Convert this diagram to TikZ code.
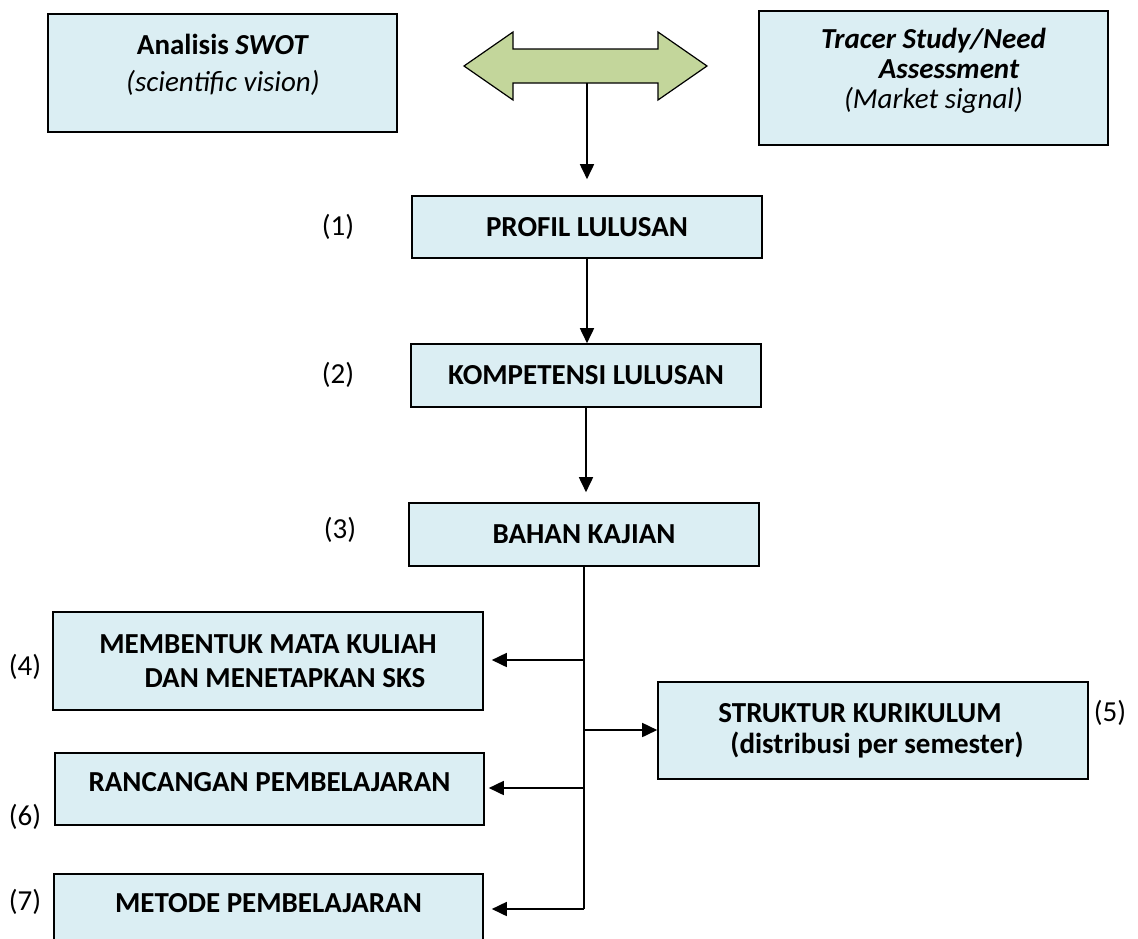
\documentclass[tikz,border=0pt]{standalone}
\usepackage{fontspec}
\setmainfont{Carlito}
\usetikzlibrary{arrows.meta,calc}
\definecolor{boxblue}{RGB}{219,238,243}
\definecolor{arrgreen}{RGB}{195,214,155}
\tikzset{
  box/.style={draw=black, line width=1.6pt, fill=boxblue, inner sep=0pt, align=center,
              font=\fontsize{29}{34}\selectfont\bfseries},
  txt/.style={inner sep=0pt, align=center, font=\fontsize{29}{34}\selectfont},
  num/.style={inner sep=0pt, font=\fontsize{29}{34}\selectfont},
  conn/.style={draw=black, line width=1.7pt, -{Triangle[length=15pt,width=14pt]}},
  trunk/.style={draw=black, line width=1.7pt}
}
\begin{document}
\begin{tikzpicture}[x=1pt,y=-1pt]
\useasboundingbox (0,0) rectangle (1138,938);
\clip (0,0) rectangle (1138,938);
\fill[white] (0,0) rectangle (1138,938);

% top row
\node[box, minimum width=349pt, minimum height=118pt] (swot) at (222.5,73) {};
\node[txt, font=\fontsize{29}{37}\selectfont] (swotT) at (223,65) {\textbf{Analisis \textit{SWOT}}\\\textit{(scientific vision)}};

\node[box, minimum width=349pt, minimum height=134pt] (tracer) at (933.5,78) {};
\node[txt, font=\fontsize{29}{30}\selectfont] (tracerT) at (933.5,71) {\bfseries\itshape Tracer Study/Need\\\hspace*{31pt}\bfseries\itshape Assessment\\\itshape (Market signal)};

\filldraw[fill=arrgreen, draw=black, line width=1.2pt, line join=miter]
  (464,66) -- (513,32) -- (513,49) -- (658,49) -- (658,32) -- (707,66)
  -- (658,100) -- (658,83) -- (513,83) -- (513,100) -- cycle;
\coordinate (dblbot) at (587,83);

% main column
\node[box, minimum width=350pt, minimum height=62pt] (profil) at (587,227) {PROFIL LULUSAN};
\node[box, minimum width=350pt, minimum height=63pt] (komp) at (586,375.5) {KOMPETENSI LULUSAN};
\node[box, minimum width=350pt, minimum height=63pt] (bahan) at (584,534.5) {BAHAN KAJIAN};

\node[num] (n1) at (338,227) {(1)};
\node[num] (n2) at (338,375) {(2)};
\node[num] (n3) at (340,530) {(3)};

% lower boxes
\node[box, minimum width=430pt, minimum height=98pt] (membentuk) at (268,661)
  {MEMBENTUK MATA KULIAH\\\hspace*{34pt}DAN MENETAPKAN SKS};
\node[box, minimum width=430pt, minimum height=97pt, font=\fontsize{29}{31}\selectfont\bfseries] (struktur) at (873,730.5)
  {STRUKTUR KURIKULUM\hspace*{26pt}\\\hspace*{8pt}(distribusi per semester)};
\node[box, minimum width=429pt, minimum height=72pt] (rancangan) at (269.5,789) {};
\node[txt, font=\fontsize{29}{34}\selectfont\bfseries] (rancanganT) at (269.5,782) {RANCANGAN PEMBELAJARAN};
\node[box, minimum width=429pt, minimum height=76pt] (metode) at (268.5,912) {};
\node[txt, font=\fontsize{29}{34}\selectfont\bfseries] (metodeT) at (268.5,903) {METODE PEMBELAJARAN};

\node[num] (n4) at (25,667) {(4)};
\node[num] (n5) at (1110,713) {(5)};
\node[num] (n6) at (25,817) {(6)};
\node[num] (n7) at (25,902) {(7)};

% connectors
\draw[conn, shorten >=16pt] (dblbot) -- (dblbot |- profil.north);
\draw[conn] (profil.south) -- (profil.south |- komp.north);
\draw[conn, shorten >=10pt] (komp.south) -- (komp.south |- bahan.north);

\coordinate (b1) at (584,660);
\coordinate (b2) at (584,730);
\coordinate (b3) at (584,788);
\coordinate (b4) at (584,909);
\draw[trunk] (bahan.south) -- (b4);
\draw[conn, shorten >=8pt] (b1) -- (b1 -| membentuk.east);
\draw[conn] (b2) -- (b2 -| struktur.west);
\draw[conn, shorten >=4pt] (b3) -- (b3 -| rancangan.east);
\draw[conn, shorten >=8pt] (b4) -- (b4 -| metode.east);
\end{tikzpicture}
\end{document}
